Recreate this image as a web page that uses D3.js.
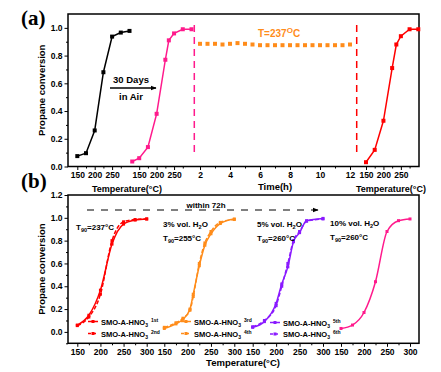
<!DOCTYPE html>
<html>
<head>
<meta charset="utf-8">
<script src="https://cdn.jsdelivr.net/npm/d3@7"></script>
<style>
body { margin: 0; background: #fff; }
text { font-family: Arial, "Liberation Sans", sans-serif; font-weight: bold; }
</style>
</head>
<body>
<script>
// ---- panel (a) data
const tempA1 = [150, 175, 200, 225, 250, 275, 300];
const convA1 = [0.075, 0.096, 0.26, 0.68, 0.937, 0.966, 0.978];
const tempA2 = [130, 150, 175, 200, 225, 235, 250, 275, 300];
const convA2 = [0.036, 0.06, 0.14, 0.38, 0.77, 0.91, 0.96, 0.99, 0.99];
const timeA = [2, 2.5, 3, 3.5, 4, 4.5, 5, 5.5, 6, 6.5, 7, 7.5, 8, 8.5, 9, 9.5, 10, 10.5, 11, 11.5, 12];
const convTime = [0.885, 0.885, 0.885, 0.88, 0.885, 0.89, 0.885, 0.88, 0.875, 0.875, 0.875, 0.875, 0.875, 0.875, 0.875, 0.875, 0.875, 0.875, 0.875, 0.875, 0.88];
const tempA3 = [150, 175, 200, 225, 237, 250, 275, 300];
const convA3 = [0.031, 0.12, 0.33, 0.71, 0.88, 0.94, 0.99, 0.99];
const tempTicksA = [150, 200, 250];
const timeTicks = [2, 4, 6, 8, 10, 12];
const yTicksA = [0, 0.2, 0.4, 0.6, 0.8, 1.0];

// ---- panel (b) data
const tempB1 = [150, 175, 200, 225, 250, 275, 300];
const run1 = [0.06, 0.146, 0.366, 0.77, 0.945, 0.98, 0.99];
const run2 = [0.055, 0.13, 0.33, 0.80, 0.965, 0.985, 0.99];
const tempB2 = [150, 175, 190, 205, 212, 225, 237, 250, 270, 300];
const run3 = [0.03, 0.07, 0.11, 0.2, 0.33, 0.58, 0.76, 0.86, 0.95, 0.99];
const run4 = [0.04, 0.08, 0.12, 0.19, 0.31, 0.6, 0.78, 0.88, 0.96, 0.985];
const tempB3 = [150, 175, 200, 212, 225, 237, 250, 265, 300];
const run5 = [0.04, 0.09, 0.25, 0.42, 0.57, 0.79, 0.87, 0.975, 0.995];
const run6 = [0.045, 0.1, 0.23, 0.40, 0.6, 0.8, 0.88, 0.97, 0.99];
const tempB4 = [150, 175, 200, 225, 250, 275, 300];
const run7 = [0.03, 0.06, 0.17, 0.44, 0.88, 0.975, 0.99];
const tempTicksB = [150, 200, 250, 300];
const yTicksB = [0, 0.2, 0.4, 0.6, 0.8, 1.0, 1.2];

const W = 441, H = 372;
const boxA = {left: 68, right: 419, top: 14, bottom: 166.5};
const boxB = {left: 68, right: 419, top: 195, bottom: 343.3};

const svg = d3.select('body').append('svg')
	.attr('width', W)
	.attr('height', H);

const yA = d3.scaleLinear().domain([0, 1.1]).range([boxA.bottom, boxA.top]);
const yB = d3.scaleLinear().domain([-0.1, 1.2]).range([boxB.bottom, boxB.top]);

const xA1 = d3.scaleLinear().domain([150, 300]).range([77.3, 129.5]);
const xA2 = d3.scaleLinear().domain([150, 300]).range([139.2, 191.5]);
const xT = d3.scaleLinear().domain([2, 12]).range([200, 350]);
const xA3 = d3.scaleLinear().domain([150, 300]).range([366, 418.3]);

const xB = [
	d3.scaleLinear().domain([150, 300]).range([77.3, 146.7]),
	d3.scaleLinear().domain([150, 300]).range([164.3, 234.3]),
	d3.scaleLinear().domain([150, 300]).range([252.7, 323]),
	d3.scaleLinear().domain([150, 300]).range([341, 410])
];

function frame(b) {
	svg.append('rect')
		.attr('x', b.left).attr('y', b.top)
		.attr('width', b.right - b.left).attr('height', b.bottom - b.top)
		.attr('fill', 'none').attr('stroke', '#000').attr('stroke-width', 1.5);
}

function bottomTicks(scale, major, minor, yPos) {
	const g = svg.append('g').attr('transform', 'translate(0,' + yPos + ')');
	g.call(d3.axisBottom(scale).tickValues(minor).tickSize(2).tickFormat(''))
		.select('.domain').remove();
	const g2 = svg.append('g').attr('transform', 'translate(0,' + yPos + ')');
	g2.call(d3.axisBottom(scale).tickValues(major).tickSize(3.5).tickPadding(2))
		.select('.domain').remove();
	g2.selectAll('text').style('font-size', '8.5px').attr('fill', '#000');
	svg.selectAll('.tick line').attr('stroke-width', 1);
}

function leftTicks(scale, major, minor, fmt) {
	const g = svg.append('g').attr('transform', 'translate(' + boxA.left + ',0)');
	g.call(d3.axisLeft(scale).tickValues(minor).tickSize(2).tickFormat(''))
		.select('.domain').remove();
	const g2 = svg.append('g').attr('transform', 'translate(' + boxA.left + ',0)');
	g2.call(d3.axisLeft(scale).tickValues(major).tickSize(3.5).tickPadding(2).tickFormat(fmt))
		.select('.domain').remove();
	g2.selectAll('text').style('font-size', '8.5px').attr('fill', '#000');
}

function series(xs, ys, xScale, yScale, color, opts) {
	opts = opts || {};
	const pts = xs.map((t, i) => [xScale(t), yScale(ys[i])]);
	const line = d3.line().curve(opts.curve || d3.curveLinear);
	if (!opts.noLine) {
		svg.append('path')
			.attr('d', line(pts))
			.attr('fill', 'none')
			.attr('stroke', color)
			.attr('stroke-width', opts.width || 1.5)
			.attr('stroke-dasharray', opts.dash || null);
	}
	const s = opts.size || 4;
	svg.append('g').selectAll('rect')
		.data(pts)
	.enter().append('rect')
		.attr('x', d => d[0] - s / 2)
		.attr('y', d => d[1] - s / 2)
		.attr('width', s).attr('height', s)
		.attr('fill', color);
}

// ================= panel (a)
frame(boxA);
leftTicks(yA, yTicksA, d3.range(0.1, 1.1, 0.2), d3.format('.1f'));
bottomTicks(xA1, tempTicksA, [175, 225, 275], boxA.bottom);
bottomTicks(xA2, tempTicksA, [175, 225, 275], boxA.bottom);
bottomTicks(xT, timeTicks, [3, 5, 7, 9, 11], boxA.bottom);
bottomTicks(xA3, tempTicksA, [175, 225, 275], boxA.bottom);

series(tempA1, convA1, xA1, yA, '#000');
series(tempA2, convA2, xA2, yA, '#ff1a8c');
series(timeA, convTime, xT, yA, '#ff8c1a', {noLine: true, size: 4});
series(tempA3, convA3, xA3, yA, '#ff0000');

svg.append('line')
	.attr('x1', 194.3).attr('x2', 194.3).attr('y1', 25).attr('y2', 152)
	.attr('stroke', '#ff1a8c').attr('stroke-width', 1.5).attr('stroke-dasharray', '7,5');
svg.append('line')
	.attr('x1', 356.7).attr('x2', 356.7).attr('y1', 25).attr('y2', 152)
	.attr('stroke', '#ff0000').attr('stroke-width', 1.5).attr('stroke-dasharray', '7,5');

svg.append('defs').append('marker')
	.attr('id', 'arr')
	.attr('viewBox', '0 0 10 10')
	.attr('refX', 9).attr('refY', 5)
	.attr('markerWidth', 6).attr('markerHeight', 6)
	.attr('markerUnits', 'userSpaceOnUse')
	.attr('orient', 'auto')
.append('path')
	.attr('d', 'M0,1L10,5L0,9Z')
	.attr('fill', '#000');

svg.append('text').attr('x', 131).attr('y', 83).attr('text-anchor', 'middle')
	.style('font-size', '9.5px').text('30 Days');
svg.append('line')
	.attr('x1', 110).attr('x2', 156).attr('y1', 88).attr('y2', 88)
	.attr('stroke', '#000').attr('stroke-width', 1.5).attr('marker-end', 'url(#arr)');
svg.append('text').attr('x', 131).attr('y', 100).attr('text-anchor', 'middle')
	.style('font-size', '9.5px').text('in Air');

const tLab = svg.append('text').attr('x', 258).attr('y', 37)
	.style('font-size', '10px').attr('fill', '#ff8c1a');
tLab.append('tspan').text('T=237');
tLab.append('tspan').attr('dy', -4).style('font-size', '8px').text('O');
tLab.append('tspan').attr('dy', 4).text('C');

// axis titles for panel a
svg.append('text').attr('x', 127).attr('y', 192).attr('text-anchor', 'middle')
	.style('font-size', '9px').text('Temperature(°C)');
svg.append('text').attr('x', 275).attr('y', 190).attr('text-anchor', 'middle')
	.style('font-size', '9.5px').text('Time(h)');
svg.append('text').attr('x', 391).attr('y', 192).attr('text-anchor', 'middle')
	.style('font-size', '9px').text('Temperature(°C)');

svg.append('text').attr('transform', 'translate(45,' + (boxA.top + boxA.bottom) / 2 + ') rotate(-90)')
	.attr('text-anchor', 'middle').style('font-size', '9.5px').text('Propane conversion');

svg.append('text').attr('x', 21).attr('y', 25)
	.style('font-family', '"Times New Roman", "Liberation Serif", serif')
	.style('font-size', '21px').text('(a)');

// ================= panel (b)
frame(boxB);
const gyb = svg.append('g').attr('transform', 'translate(' + boxB.left + ',0)');
gyb.call(d3.axisLeft(yB).tickValues(d3.range(-0.1, 1.2, 0.2)).tickSize(2).tickFormat('')).select('.domain').remove();
const gyb2 = svg.append('g').attr('transform', 'translate(' + boxB.left + ',0)');
gyb2.call(d3.axisLeft(yB).tickValues(yTicksB).tickSize(3.5).tickPadding(2).tickFormat(d3.format('.1f')))
	.select('.domain').remove();
gyb2.selectAll('text').style('font-size', '8.5px').attr('fill', '#000');

xB.forEach(s => bottomTicks(s, tempTicksB, [175, 225, 275], boxB.bottom));

const smooth = d3.curveMonotoneX;
series(tempB1, run1, xB[0], yB, '#ff0000', {curve: smooth, size: 3});
series(tempB1, run2, xB[0], yB, '#ff0000', {curve: smooth, size: 3, dash: '4,2'});
series(tempB2, run3, xB[1], yB, '#ff8c1a', {curve: smooth, size: 3});
series(tempB2, run4, xB[1], yB, '#ff8c1a', {curve: smooth, size: 3, dash: '4,2'});
series(tempB3, run5, xB[2], yB, '#8a1aff', {curve: smooth, size: 3});
series(tempB3, run6, xB[2], yB, '#8a1aff', {curve: smooth, size: 3, dash: '4,2'});
series(tempB4, run7, xB[3], yB, '#ff1a8c', {curve: smooth, size: 3});

// within 72h arrow
svg.append('line')
	.attr('x1', 87).attr('x2', 318).attr('y1', 210).attr('y2', 210)
	.attr('stroke', '#000').attr('stroke-width', 1.2).attr('stroke-dasharray', '7,7')
	.attr('marker-end', 'url(#arr)');
svg.append('text').attr('x', 206).attr('y', 207.5).attr('text-anchor', 'middle')
	.style('font-size', '8px').text('within 72h');

function t90(x, y, val) {
	const t = svg.append('text').attr('x', x).attr('y', y).style('font-size', '8px');
	t.append('tspan').text('T');
	t.append('tspan').attr('dy', 2).style('font-size', '5.5px').text('90');
	t.append('tspan').attr('dy', -2).text('=' + val + '°C');
}
function water(x, y, pct) {
	const t = svg.append('text').attr('x', x).attr('y', y).style('font-size', '8px');
	t.append('tspan').text(pct + '% vol. H');
	t.append('tspan').attr('dy', 2).style('font-size', '5.5px').text('2');
	t.append('tspan').attr('dy', -2).text('O');
}
t90(76, 229.5, 237);
water(163, 227, 3);
t90(163, 241, 255);
water(257, 227, 5);
t90(257, 241, 260);
water(330, 226, 10);
t90(330, 240, 260);

function legendItem(x, y, color, dash, sup) {
	svg.append('line').attr('x1', x).attr('x2', x + 10).attr('y1', y).attr('y2', y)
		.attr('stroke', color).attr('stroke-width', 1.5).attr('stroke-dasharray', dash);
	svg.append('rect').attr('x', x + 3.5).attr('y', y - 1.5).attr('width', 3).attr('height', 3).attr('fill', color);
	const t = svg.append('text').attr('x', x + 13).attr('y', y + 3).style('font-size', '7.5px');
	t.append('tspan').text('SMO-A-HNO');
	t.append('tspan').attr('dy', 2).style('font-size', '5px').text('3');
	t.append('tspan').attr('dx', 3).attr('dy', -5).style('font-size', '5px').text(sup);
}
legendItem(88, 321.5, '#ff0000', null, '1st');
legendItem(88, 333.5, '#ff0000', '3,2', '2nd');
legendItem(181, 321.5, '#ff8c1a', null, '3rd');
legendItem(181, 333.5, '#ff8c1a', '3,2', '4th');
legendItem(270, 322.5, '#8a1aff', null, '5th');
legendItem(270, 334, '#8a1aff', '3,2', '6th');

svg.append('text').attr('x', 243).attr('y', 366).attr('text-anchor', 'middle')
	.style('font-size', '9.5px').text('Temperature(°C)');
svg.append('text').attr('transform', 'translate(45,' + (boxB.top + boxB.bottom) / 2 + ') rotate(-90)')
	.attr('text-anchor', 'middle').style('font-size', '9.5px').text('Propane conversion');

svg.append('text').attr('x', 21).attr('y', 188)
	.style('font-family', '"Times New Roman", "Liberation Serif", serif')
	.style('font-size', '21px').text('(b)');
</script>
</body>
</html>
